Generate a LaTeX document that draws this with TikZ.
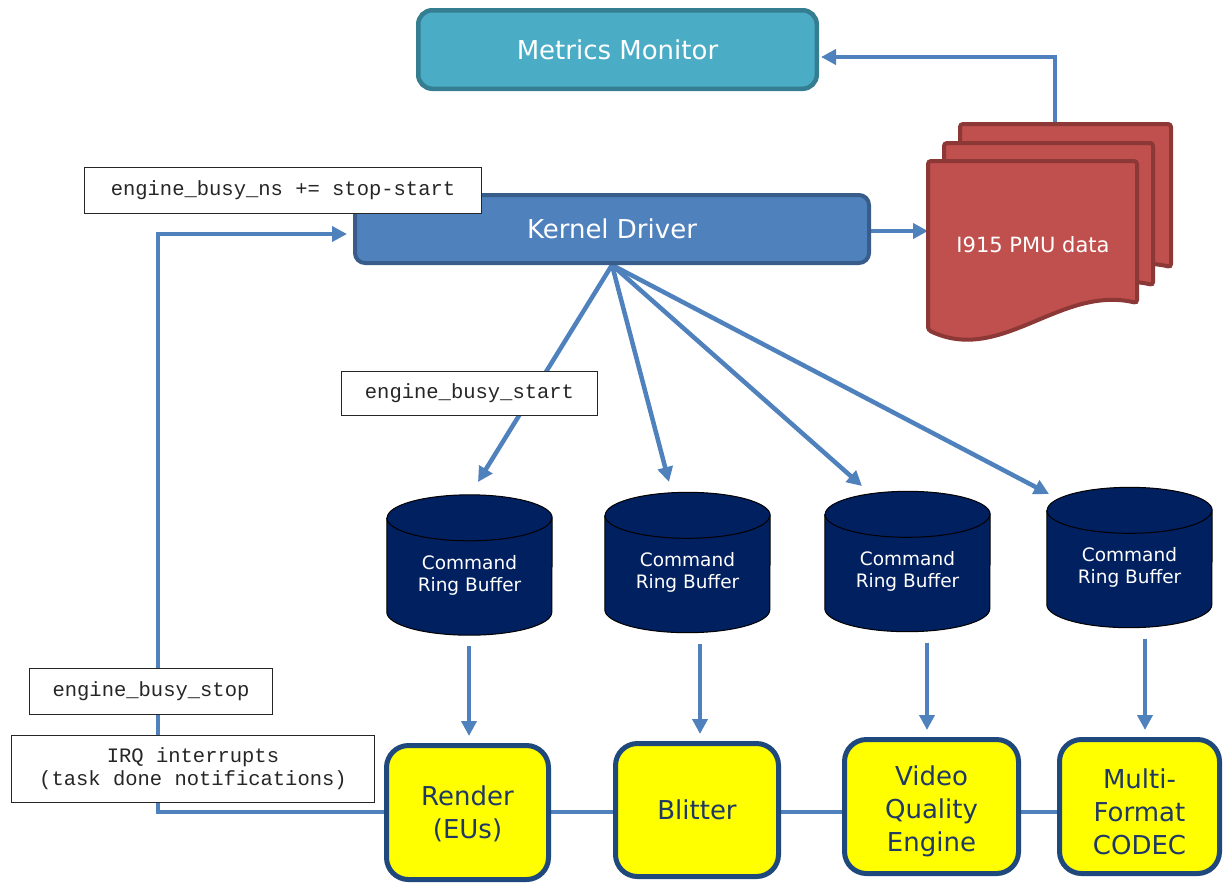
\documentclass[tikz,border=0pt]{standalone}
\usepackage{fontspec}
\setmainfont{DejaVu Sans}
\newfontfamily\codefont{Liberation Mono}
\usetikzlibrary{arrows.meta,calc}

\definecolor{mmfill}{HTML}{4BACC6}
\definecolor{mmedge}{HTML}{357D91}
\definecolor{kdfill}{HTML}{4F81BD}
\definecolor{kdedge}{HTML}{385D8A}
\definecolor{pmufill}{HTML}{C0504D}
\definecolor{pmuedge}{HTML}{8C3836}
\definecolor{cylfill}{HTML}{002060}
\definecolor{engedge}{HTML}{1F497D}
\definecolor{engtext}{HTML}{1F3864}
\definecolor{arrblue}{HTML}{4F81BD}
\definecolor{codeink}{HTML}{262626}
\definecolor{engfill}{HTML}{FFFF00}

\pgfdeclarelayer{wires}
\pgfsetlayers{wires,main}

% one sheet of the stacked PMU document: left, top, right, bottom-right
\newcommand\pmusheet[4]{%
  \filldraw[pmusheet] (#1,#4+27) -- (#1,#2) -- (#3,#2) -- (#3,#4)
    .. controls ({#1+0.63*(#3-#1)},#4-18) and ({#1+0.35*(#3-#1)},#4+62) .. (#1,#4+27) -- cycle;}
% taller first line, lowering a three-line label a little
\newcommand\lowstrut{\rule{0pt}{30pt}}

\begin{document}
\begin{tikzpicture}[x=1pt,y=-1pt,
  mmbox/.style={draw=mmedge, fill=mmfill, line width=4.5pt, rounded corners=14pt,
    text=white, font=\fontsize{26}{30}\selectfont, inner sep=0pt},
  kdbox/.style={draw=kdedge, fill=kdfill, line width=4pt, rounded corners=10pt,
    text=white, font=\fontsize{26}{30}\selectfont, inner sep=0pt},
  engine/.style={draw=engedge, fill=engfill, line width=5pt, rounded corners=22pt,
    text=engtext, align=center, font=\fontsize{26}{33}\selectfont, inner sep=0pt},
  codebox/.style={draw=codeink, fill=white, line width=1.2pt, text=codeink,
    font=\codefont\fontsize{20.5}{23}\selectfont, align=center, inner sep=0pt},
  cylshape/.style={inner sep=0pt, minimum width=165pt, minimum height=140pt},
  cylbody/.style={fill=cylfill, draw=black, line width=1pt},
  cyltext/.style={text=white, align=center, font=\fontsize{18.5}{22}\selectfont},
  pmusheet/.style={fill=pmufill, draw=pmuedge, line width=4pt, rounded corners=3pt},
  arr/.style={draw=arrblue, line width=4.5pt, -{Triangle[length=15pt,width=15pt]}},
  bus/.style={draw=arrblue, line width=4.5pt}]

\useasboundingbox (0,0) rectangle (1225,884);

% ---- main boxes ----
\node[mmbox, minimum width=398.5pt, minimum height=78.5pt] (mm) at (617.5,49.5) {Metrics Monitor};
\node[kdbox, minimum width=514pt, minimum height=68pt] (kd) at (612,229) {Kernel Driver};

\node[engine, minimum width=162pt, minimum height=134pt] (ren) at (467.5,812.5) {\rule{0pt}{22pt}Render\\(EUs)};
\node[engine, minimum width=163pt, minimum height=133pt] (blit) at (697,810) {Blitter};
\node[engine, minimum width=174pt, minimum height=134pt] (vqe) at (931.5,806.5) {\lowstrut Video\\Quality\\Engine};
\node[engine, minimum width=160pt, minimum height=134pt] (mfc) at (1139.5,806.5) {\lowstrut Multi-\\Format\\CODEC};

% stacked PMU data sheets, back to front
\pmusheet{960}{124}{1171}{267}
\pmusheet{944}{143}{1153}{285}
\pmusheet{928}{161}{1137}{303}
\node[text=white, font=\fontsize{21}{25}\selectfont] (pmu) at (1033,245) {I915 PMU data};
\coordinate (pmuin) at (928,231);
\coordinate (pmuout) at (1055,124);

% command ring buffers
\foreach \n/\cx/\cy in {cb1/469.5/565, cb2/687.5/562.5, cb3/907.5/561.5, cb4/1129.5/557.5} {
  \node[cylshape] (\n) at (\cx,\cy) {};
  \filldraw[cylbody] ($(\n.north west)+(0,23)$) -- ($(\n.south west)+(0,-23)$)
    arc[start angle=180, end angle=360, x radius=82.5pt, y radius=23pt]
    -- ($(\n.north east)+(0,23)$)
    arc[start angle=0, end angle=180, x radius=82.5pt, y radius=23pt] -- cycle;
  \draw[line width=1pt] ($(\n.north west)+(0,23)$)
    arc[start angle=180, end angle=360, x radius=82.5pt, y radius=23pt];
  \node[cyltext] at ($(\n.center)+(0,10)$) {Command\\Ring Buffer};
}

% code annotations
\node[codebox, minimum width=397pt, minimum height=46pt] (ns) at (283,190.5) {engine\_busy\_ns += stop-start};
\node[codebox, minimum width=256pt, minimum height=44pt] (start) at (469.5,393.5) {engine\_busy\_start};
\node[codebox, minimum width=243pt, minimum height=46pt] (stop) at (151,691.5) {engine\_busy\_stop};
\node[codebox, minimum width=363pt, minimum height=67pt] (irq) at (193,769) {IRQ interrupts\\(task done notifications)};

% ---- connectors, kept beneath every shape ----
\coordinate (busy) at (0,812);
\coordinate (fb) at (158,812);
\coordinate (t1) at (478,482);
\coordinate (t2) at (669,482);
\coordinate (t3) at (862,486);
\coordinate (t4) at (1049,494);

\begin{pgfonlayer}{wires}
\draw[arr, shorten >=2pt] (pmuout) |- ([yshift=-7.5pt]mm.east);
\draw[arr] ([yshift=-2pt]kd.east) -- (pmuin);
\draw[arr, shorten >=6pt] (ren.west |- busy) -- (fb) |- ([yshift=-5pt]kd.west);
\foreach \t in {t1,t2,t3,t4}
  \draw[arr] (kd.south) -- (\t);
\foreach \c/\e/\dx in {cb1/ren/1.5, cb2/blit/3, cb3/vqe/-4.5, cb4/mfc/5.5}
  \draw[arr, shorten >=7pt] ($(\c.south -| \e.north)+(\dx,11)$) -- ($(\e.north)+(\dx,0)$);
\draw[bus] (ren.east |- busy) -- (blit.west |- busy);
\draw[bus] (blit.east |- busy) -- (vqe.west |- busy);
\draw[bus] (vqe.east |- busy) -- (mfc.west |- busy);
\end{pgfonlayer}

\end{tikzpicture}
\end{document}
